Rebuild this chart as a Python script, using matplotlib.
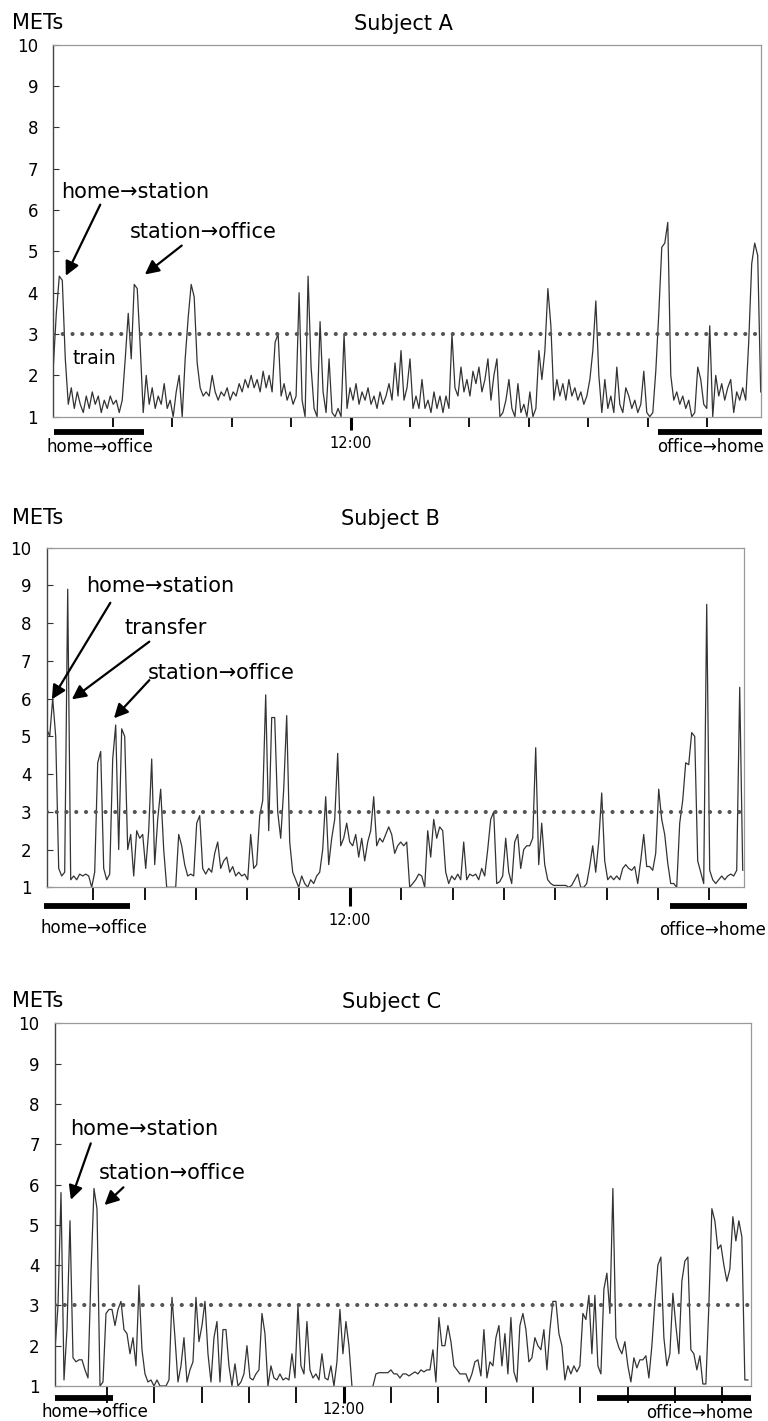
import numpy as np
import matplotlib
matplotlib.use("Agg")
import matplotlib.pyplot as plt

plt.rcParams['font.family'] = ['DejaVu Sans', 'Noto Sans CJK JP']

# ---------------- data (METs, sampled evenly over the day) ----------------
# Subject A: 07:00 - 18:54
a_time = (7.0, 18.9)
a_mets = [
    2.2, 3.5, 4.4, 4.3, 2.4, 1.3, 1.7, 1.2, 1.6, 1.3,
    1.1, 1.5, 1.2, 1.6, 1.3, 1.5, 1.1, 1.4, 1.2, 1.5,
    1.3, 1.4, 1.1, 1.4, 2.4, 3.5, 2.4, 4.2, 4.1, 2.7,
    1.1, 2.0, 1.3, 1.7, 1.2, 1.5, 1.3, 1.8, 1.2, 1.4,
    1.0, 1.6, 2.0, 1.0, 2.4, 3.4, 4.2, 3.9, 2.3, 1.7,
    1.5, 1.6, 1.5, 2.0, 1.6, 1.4, 1.6, 1.5, 1.7, 1.4,
    1.6, 1.5, 1.8, 1.6, 1.9, 1.7, 2.0, 1.7, 1.9, 1.6,
    2.1, 1.7, 2.0, 1.6, 2.8, 3.0, 1.5, 1.8, 1.4, 1.6,
    1.3, 1.5, 4.0, 1.4, 1.0, 4.4, 2.2, 1.2, 1.0, 3.3,
    1.6, 1.1, 2.4, 1.1, 1.0, 1.2, 1.0, 3.0, 1.2, 1.7,
    1.4, 1.8, 1.3, 1.6, 1.4, 1.7, 1.3, 1.5, 1.2, 1.6,
    1.3, 1.5, 1.8, 1.4, 2.3, 1.5, 2.6, 1.4, 1.7, 2.4,
    1.2, 1.5, 1.2, 1.9, 1.2, 1.4, 1.1, 1.6, 1.2, 1.5,
    1.1, 1.5, 1.2, 3.0, 1.7, 1.5, 2.2, 1.6, 1.9, 1.5,
    2.1, 1.8, 2.2, 1.6, 1.9, 2.4, 1.4, 2.0, 2.4, 1.0,
    1.1, 1.4, 1.9, 1.2, 1.0, 1.8, 1.1, 1.3, 1.0, 1.6,
    1.0, 1.2, 2.6, 1.9, 2.6, 4.1, 3.2, 1.4, 1.9, 1.5,
    1.8, 1.4, 1.9, 1.5, 1.7, 1.4, 1.6, 1.3, 1.5, 1.9,
    2.6, 3.8, 2.0, 1.1, 1.9, 1.2, 1.5, 1.1, 2.2, 1.3,
    1.1, 1.7, 1.5, 1.2, 1.4, 1.1, 1.3, 2.1, 1.1, 1.0,
    1.1, 2.1, 3.5, 5.1, 5.2, 5.7, 2.0, 1.4, 1.6, 1.3,
    1.5, 1.2, 1.4, 1.0, 1.1, 2.2, 1.9, 1.3, 1.2, 3.2,
    1.0, 2.0, 1.5, 1.8, 1.4, 1.7, 1.9, 1.1, 1.6, 1.4,
    1.7, 1.4, 2.8, 4.7, 5.2, 4.9, 1.6,
]

# Subject B: ~06:05 - 19:40
b_time = (6.09, 19.654)
b_mets = [
    5.2, 5.0, 6.0, 5.0, 1.5, 1.3, 1.4, 8.9, 1.2, 1.3,
    1.2, 1.35, 1.3, 1.35, 1.3, 1.0, 1.4, 4.3, 4.6, 1.5,
    1.2, 1.35, 4.4, 5.3, 2.0, 5.2, 5.0, 2.0, 2.4, 1.3,
    2.5, 2.3, 2.4, 1.5, 2.5, 4.4, 1.6, 2.8, 3.6, 2.0,
    1.0, 1.0, 1.0, 1.0, 2.4, 2.1, 1.6, 1.3, 1.35, 1.3,
    2.7, 2.9, 1.5, 1.35, 1.5, 1.4, 1.9, 2.2, 1.5, 1.7,
    1.8, 1.4, 1.55, 1.3, 1.4, 1.3, 1.35, 1.2, 2.4, 1.5,
    1.6, 2.9, 3.3, 6.1, 2.5, 5.5, 5.5, 3.0, 2.3, 3.6,
    5.55, 2.2, 1.4, 1.2, 1.0, 1.3, 1.1, 1.0, 1.2, 1.1,
    1.3, 1.4, 2.0, 3.4, 1.6, 2.3, 2.8, 4.55, 2.1, 2.3,
    2.7, 2.2, 2.1, 2.4, 1.8, 2.3, 1.7, 2.2, 2.5, 3.4,
    2.1, 2.3, 2.2, 2.4, 2.6, 2.4, 1.9, 2.1, 2.2, 2.1,
    2.2, 1.0, 1.1, 1.2, 1.35, 1.3, 1.0, 2.5, 1.8, 2.8,
    2.3, 2.6, 2.5, 1.4, 1.1, 1.3, 1.2, 1.35, 1.2, 2.2,
    1.2, 1.35, 1.3, 1.35, 1.2, 1.5, 1.3, 2.0, 2.8, 3.0,
    1.1, 1.15, 1.3, 2.3, 1.4, 1.1, 2.2, 2.4, 1.5, 2.0,
    2.1, 2.1, 2.3, 4.7, 1.6, 2.7, 1.6, 1.2, 1.1, 1.05,
    1.05, 1.05, 1.05, 1.05, 1.0, 1.05, 1.2, 1.35, 1.0, 1.0,
    1.1, 1.55, 2.1, 1.4, 2.2, 3.5, 1.7, 1.2, 1.3, 1.2,
    1.3, 1.2, 1.5, 1.6, 1.5, 1.45, 1.55, 1.1, 1.7, 2.4,
    1.55, 1.55, 1.45, 1.9, 3.6, 2.8, 2.4, 1.65, 1.1, 1.1,
    1.0, 2.7, 3.3, 4.3, 4.25, 5.1, 5.0, 1.7, 1.4, 1.1,
    8.5, 1.45, 1.2, 1.1, 1.2, 1.3, 1.2, 1.3, 1.35, 1.3,
    1.45, 6.3, 1.45,
]

# Subject C: ~05:55 - 20:35 (gap = no data)
c_time = (5.905, 20.54)
c_mets = [
    1.9, 3.0, 5.8, 1.15, 2.4, 5.1, 1.7, 1.6, 1.65, 1.65,
    1.4, 1.2, 3.8, 5.9, 5.4, 1.0, 1.1, 2.8, 2.9, 2.9,
    2.5, 2.9, 3.1, 2.4, 2.3, 1.8, 2.2, 1.5, 3.5, 1.9,
    1.3, 1.1, 1.15, 1.0, 1.15, 1.0, 1.0, 1.0, 1.15, 3.2,
    2.2, 1.1, 1.5, 2.2, 1.1, 1.4, 1.6, 3.2, 2.1, 2.5,
    3.1, 1.8, 1.1, 2.2, 2.6, 1.1, 2.4, 2.4, 1.5, 1.0,
    1.55, 1.0, 1.1, 1.3, 2.0, 1.2, 1.15, 1.3, 1.4, 2.8,
    2.3, 1.0, 1.5, 1.2, 1.15, 1.3, 1.15, 1.2, 1.15, 1.8,
    1.2, 3.0, 1.5, 1.3, 2.6, 1.4, 1.2, 1.3, 1.15, 1.8,
    1.2, 1.15, 1.5, 1.0, 1.6, 2.9, 1.8, 2.6, 2.0, 1.0,
    np.nan, np.nan, np.nan, np.nan, np.nan, np.nan, 1.0, 1.3, 1.33, 1.33,
    1.33, 1.33, 1.4, 1.3, 1.3, 1.2, 1.3, 1.3, 1.25, 1.3,
    1.35, 1.3, 1.4, 1.35, 1.4, 1.4, 1.9, 1.1, 2.7, 2.0,
    2.0, 2.5, 2.1, 1.5, 1.4, 1.3, 1.3, 1.3, 1.1, 1.3,
    1.6, 1.65, 1.25, 2.4, 1.2, 1.6, 1.5, 2.2, 2.5, 1.5,
    2.3, 1.3, 2.7, 1.35, 1.1, 2.5, 2.8, 2.4, 1.6, 1.7,
    2.2, 2.0, 1.9, 2.4, 1.4, 2.4, 3.1, 3.1, 2.3, 2.0,
    1.15, 1.5, 1.3, 1.5, 1.35, 1.5, 2.8, 2.65, 3.25, 1.8,
    3.25, 1.5, 1.3, 3.4, 3.8, 2.8, 5.9, 2.2, 1.95, 1.8,
    2.1, 1.5, 1.1, 1.7, 1.45, 1.65, 1.65, 1.75, 1.2, 2.0,
    3.1, 4.0, 4.2, 2.2, 1.5, 1.8, 3.3, 2.5, 1.8, 3.6,
    4.1, 4.2, 1.9, 1.8, 1.4, 1.75, 1.05, 1.05, 3.0, 5.4,
    5.1, 4.4, 4.5, 4.0, 3.6, 3.9, 5.2, 4.6, 5.1, 4.7,
    1.15, 1.15,
]

# x limits (hours) and hourly tick marks
a_xlim, b_xlim, c_xlim = (7.0, 18.9), (6.09, 19.685), (5.905, 20.6)
a_hours = list(range(8, 19))
b_hours = list(range(7, 20))
c_hours = list(range(7, 21))

# commute periods (hours): home->office, office->home
a_commute = [(7.02, 8.53), (17.18, 18.93)]
b_commute = [(6.03, 7.72), (18.24, 19.74)]
c_commute = [(5.905, 7.12), (17.35, 20.6)]

# annotations: (text, text pos, arrow tail, arrow tip)
a_notes = [("home→station", (7.14, 6.43), (7.79, 6.13), (7.21, 4.41)),
           ("station→office", (8.29, 5.46), (9.16, 5.14), (8.54, 4.44))]
b_notes = [("home→station", (6.86, 8.99), (7.33, 8.54), (6.19, 5.98)),
           ("transfer", (7.60, 7.86), (8.09, 7.51), (6.58, 5.98)),
           ("station→office", (8.06, 6.67), (8.09, 6.49), (7.40, 5.48))]
c_notes = [("home→station", (6.22, 7.38), (6.66, 7.02), (6.24, 5.62)),
           ("station→office", (6.84, 6.28), (7.35, 5.93), (6.95, 5.49))]

W, H = 768, 1421


def fxy(x, y):
    # pixel position -> figure fraction
    return x / W, 1 - y / H


def draw_panel(rect, time, mets, xlim, hours, commute, notes, bar_y,
               tick_len, tick_pad):
    ax = fig.add_axes(rect)
    t = np.linspace(time[0], time[1], len(mets))
    ax.plot(t, mets, color='#333333', lw=0.9, zorder=2)
    ax.axhline(3, color='#555555', lw=3.0, linestyle=(0, (0.01, 2.33)),
               dash_capstyle='round', zorder=3)
    ax.set_xlim(*xlim)
    ax.set_ylim(1, 10)
    ax.set_yticks(range(1, 11))
    ax.tick_params(axis='y', direction='in', length=4.3, width=0.8,
                   color='#333333', pad=11, labelsize=12)

    ax.set_xticks([12])
    ax.set_xticklabels(['12:00'])
    ax.set_xticks([h for h in hours if h != 12], minor=True)
    ax.tick_params(axis='x', which='major', direction='out',
                   length=tick_len[0], width=2.2, color='k',
                   pad=tick_pad, labelsize=10.5)
    ax.tick_params(axis='x', which='minor', direction='out',
                   length=tick_len[1], width=1.3, color='k')

    for s in ['top', 'right', 'bottom']:
        ax.spines[s].set_color('#999999')
        ax.spines[s].set_linewidth(0.9)
    ax.spines['left'].set_color('#444444')
    ax.spines['left'].set_linewidth(1.0)

    for x0, x1 in commute:
        ax.plot([x0, x1], [bar_y, bar_y], transform=ax.get_xaxis_transform(),
                color='k', lw=4.2, solid_capstyle='butt', clip_on=False)

    for label, txt, tail, tip in notes:
        ax.text(txt[0], txt[1], label, fontsize=15, ha='left', va='center')
        ax.annotate('', xy=tip, xytext=tail,
                    arrowprops=dict(arrowstyle='-|>,head_length=0.6,head_width=0.3',
                                    color='k', lw=1.6, shrinkA=0, shrinkB=0,
                                    mutation_scale=14))
    return ax


fig = plt.figure(figsize=(W / 100, H / 100), dpi=100)

# Subject A
ax_a = draw_panel([53.3 / W, 1 - 416.7 / H, 707.4 / W, 372 / H],
                  a_time, a_mets, a_xlim, a_hours, a_commute, a_notes,
                  -15.6 / 372, (9.4, 7.2), 4.8)
ax_a.text(7.33, 2.42, "train", fontsize=13.5, ha='left', va='center')

# Subject B
ax_b = draw_panel([46.7 / W, 1 - 887.3 / H, 697.6 / W, 339.6 / H],
                  b_time, b_mets, b_xlim, b_hours, b_commute, b_notes,
                  -18.4 / 339.6, (13.7, 9.0), 5.1)

# Subject C
ax_c = draw_panel([55 / W, 1 - 1386 / H, 695.7 / W, 362.7 / H],
                  c_time, c_mets, c_xlim, c_hours, c_commute, c_notes,
                  -11.8 / 362.7, (12.2, 12.2), -0.9)

# titles, axis captions and commute labels
for title, tx, ty in [("Subject A", 403, 24.3), ("Subject B", 390, 519),
                      ("Subject C", 392, 1001.7)]:
    fig.text(*fxy(tx, ty), title, fontsize=15, ha='center', va='center')
    fig.text(*fxy(12.3, ty - 1), "METs", fontsize=15, ha='left', va='center')

for label, lx, ly in [("home→office", 99.8, 447.3), ("office→home", 710.8, 447.3),
                      ("home→office", 93.5, 927.7), ("office→home", 712.5, 930),
                      ("home→office", 95, 1411.7), ("office→home", 699.5, 1413.3)]:
    fig.text(*fxy(lx, ly), label, fontsize=12, ha='center', va='center')

fig.savefig("out.png", dpi=100)
